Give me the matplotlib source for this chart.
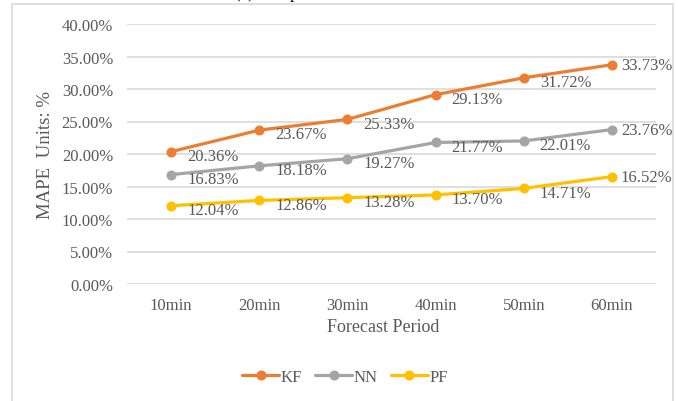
import matplotlib
matplotlib.use("Agg")
import matplotlib.pyplot as plt
from matplotlib.patches import Rectangle
from matplotlib.ticker import PercentFormatter

# MAPE of each method over the forecast horizon (%)
periods = ["10min", "20min", "30min", "40min", "50min", "60min"]
kf = [20.36, 23.67, 25.33, 29.13, 31.72, 33.73]
nn = [16.83, 18.18, 19.27, 21.77, 22.01, 23.76]
pf = [12.04, 12.86, 13.28, 13.70, 14.71, 16.52]
series_names = ["KF", "NN", "PF"]
y_ticks = [0, 5, 10, 15, 20, 25, 30, 35, 40]


def main():
    plt.rcParams["font.family"] = ["Liberation Serif", "DejaVu Serif"]
    text_color = "#595959"
    grid_color = "#D9D9D9"
    colors = ["#ED7D31", "#A5A5A5", "#FFC000"]

    W, H = 678, 402
    fig = plt.figure(figsize=(W / 100, H / 100), dpi=100)

    # chart frame (runs past the bottom edge)
    fig.patches.append(Rectangle((12 / W, -0.05), 661 / W, 1 - 5 / H + 0.05,
                                 transform=fig.transFigure, fill=False,
                                 edgecolor=grid_color, linewidth=1.2))
    # caption sitting above the frame
    fig.text(235 / W, 1 + 1.5 / H, "(c) Comparison of MAPE", fontsize=12,
             color="black", ha="left", va="baseline")

    ax = fig.add_axes([127 / W, 1 - 285 / H, 529 / W, 260 / H])
    x = list(range(len(periods)))
    for vals, name, c in zip([kf, nn, pf], series_names, colors):
        ax.plot(x, vals, color=c, linewidth=2.3, marker="o", markersize=6.2,
                label=name, solid_capstyle="round", zorder=3)
        for i, v in enumerate(vals):
            last = i == len(vals) - 1
            ax.annotate(f"{v:.2f}%", (i, v),
                        xytext=(6.5 if last else 11.5, 0 if last else -3),
                        textcoords="offset points", ha="left", va="center",
                        fontsize=12, color=text_color, zorder=4)

    ax.set_xlim(-0.5, len(periods) - 0.5)
    ax.set_ylim(0, 40)
    ax.set_yticks(y_ticks)
    ax.yaxis.set_major_formatter(PercentFormatter(decimals=2))
    ax.set_xticks(x)
    ax.set_xticklabels(periods)
    ax.grid(axis="y", color=grid_color, linewidth=1.2)
    ax.set_axisbelow(True)
    for s in ax.spines.values():
        s.set_visible(False)
    ax.tick_params(axis="y", length=0, pad=10, labelsize=12, labelcolor=text_color)
    ax.tick_params(axis="x", length=0, pad=9, labelsize=12, labelcolor=text_color)

    fig.text(383 / W, 1 - 328 / H, "Forecast Period", fontsize=13,
             color=text_color, ha="center", va="center")
    fig.text(46 / W, 1 - 155 / H, "MAPE  Units: %", fontsize=13.5,
             color=text_color, ha="center", va="center", rotation=90)

    fig.legend(loc="center", bbox_to_anchor=(345 / W, 1 - 378 / H), ncol=3,
               frameon=False, fontsize=12, labelcolor=text_color,
               handlelength=2.2, handletextpad=0.1, columnspacing=0.8)

    fig.savefig("out.png", dpi=100)


if __name__ == "__main__":
    main()
